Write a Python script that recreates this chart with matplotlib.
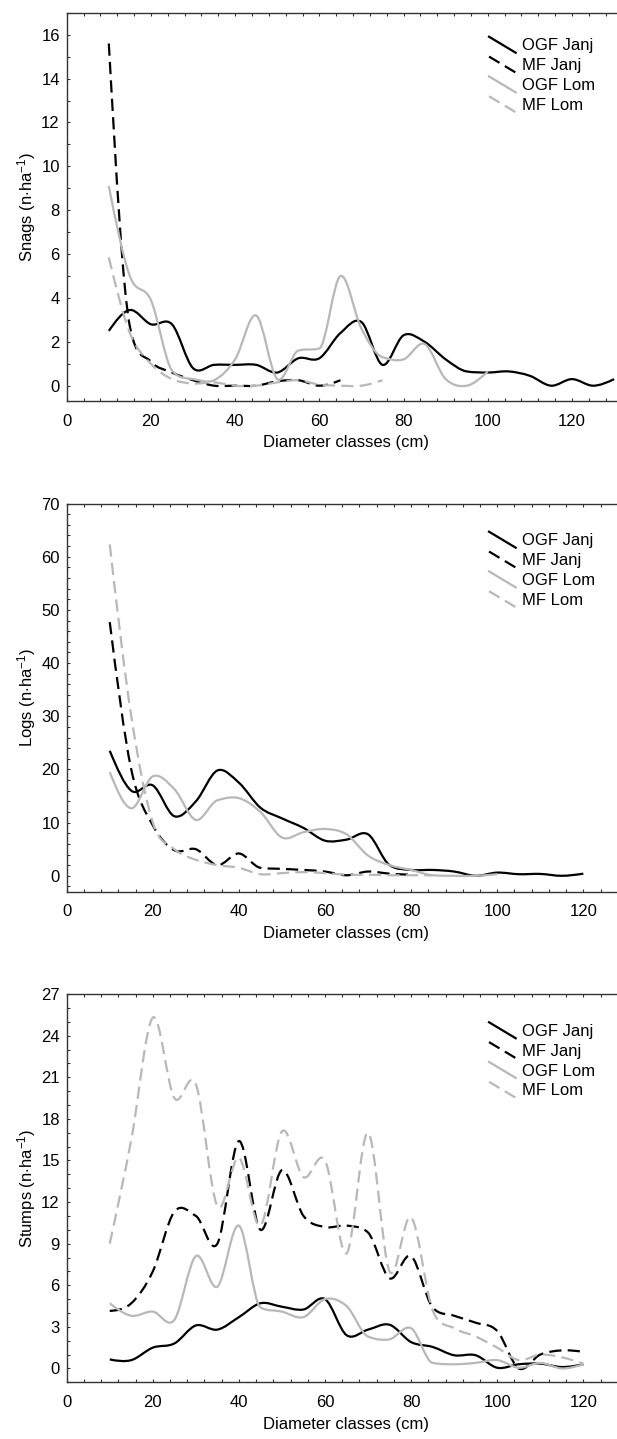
import numpy as np
import matplotlib
matplotlib.use("Agg")
import matplotlib.pyplot as plt
from matplotlib.path import Path
from matplotlib.patches import PathPatch
from matplotlib.lines import Line2D
from matplotlib.legend_handler import HandlerBase
from matplotlib.ticker import MultipleLocator, AutoMinorLocator

plt.rcParams["font.family"] = ["Liberation Sans", "DejaVu Sans"]
plt.rcParams["mathtext.fontset"] = "custom"
plt.rcParams["mathtext.rm"] = "Liberation Sans"
plt.rcParams["mathtext.it"] = "Liberation Sans:italic"

SERIES = ["OGF Janj", "MF Janj", "OGF Lom", "MF Lom"]

# diameter classes (cm)
d10_130 = [10, 15, 20, 25, 30, 35, 40, 45, 50, 55, 60, 65, 70, 75, 80, 85, 90,
           95, 100, 105, 110, 115, 120, 125, 130]
d10_120 = d10_130[:-2]

# snags (n/ha)
snags_ogf_janj = [2.5, 3.45, 2.8, 2.8, 0.8, 0.95, 0.95, 0.95, 0.6, 1.25, 1.25, 2.4,
                  2.9, 0.95, 2.3, 2.0, 1.2, 0.65, 0.6, 0.65, 0.45, 0.0, 0.3, 0.0, 0.3]
snags_mf_janj = [15.6, 2.7, 1.1, 0.6, 0.25, 0.0, 0.0, 0.0, 0.2, 0.25, 0.0, 0.25]
snags_ogf_lom = [9.1, 5.0, 3.9, 0.7, 0.3, 0.25, 1.2, 3.2, 0.3, 1.6, 1.7, 5.0, 2.6,
                 1.3, 1.2, 1.9, 0.3, 0.0, 0.65]
snags_mf_lom = [5.85, 2.4, 1.0, 0.3, 0.1, 0.15, 0.0, 0.0, 0.15, 0.25, 0.05, 0.0,
                0.0, 0.25]

# logs (n/ha)
logs_ogf_janj = [23.5, 16.0, 17.0, 11.2, 14.0, 19.8, 17.5, 12.8, 10.8, 9.0, 6.6,
                 6.8, 7.8, 2.0, 1.1, 1.1, 0.8, 0.0, 0.6, 0.3, 0.35, 0.0, 0.4]
logs_mf_janj = [47.7, 20.0, 9.5, 4.8, 5.0, 2.0, 4.2, 1.5, 1.3, 1.1, 0.8, 0.1,
                0.8, 0.4, 0.2]
logs_ogf_lom = [19.5, 12.7, 18.7, 16.3, 10.5, 14.2, 14.6, 12.0, 7.2, 8.2, 8.8,
                7.8, 3.8, 2.0, 1.1, 0.1, 0.0, 0.0, 0.3]
logs_mf_lom = [62.3, 30.0, 10.0, 5.0, 3.0, 2.0, 1.5, 0.3, 0.5, 0.7, 0.5, 0.2,
               0.2, 0.1, 0.1, 0.1]

# stumps (n/ha)
stumps_ogf_janj = [0.65, 0.6, 1.5, 1.8, 3.1, 2.8, 3.7, 4.7, 4.45, 4.25, 5.0, 2.4,
                   2.8, 3.15, 1.9, 1.55, 0.95, 0.95, 0.05, 0.3, 0.35, 0.1, 0.3]
stumps_mf_janj = [4.15, 4.7, 7.0, 11.3, 11.0, 9.0, 16.4, 10.0, 14.3, 11.0, 10.2,
                  10.3, 9.8, 6.5, 8.1, 4.4, 3.8, 3.3, 2.7, 0.0, 1.0, 1.3, 1.2]
stumps_ogf_lom = [4.7, 3.8, 4.1, 3.5, 8.1, 5.9, 10.3, 4.4, 4.1, 3.7, 5.0, 4.5,
                  2.3, 2.1, 2.9, 0.4, 0.3, 0.4, 0.6, 0.05, 0.4, 0.0, 0.3]
stumps_mf_lom = [9.0, 16.5, 25.3, 19.5, 20.5, 11.7, 15.2, 10.3, 17.1, 13.8, 15.0,
                 8.3, 17.0, 7.0, 10.9, 4.2, 2.9, 2.3, 1.5, 0.6, 1.0, 0.8, 0.35]

STYLE = {
    "OGF Janj": ("black", "-"),
    "MF Janj": ("black", (0, (5.5, 2.8))),
    "OGF Lom": ("#b8b8b8", "-"),
    "MF Lom": ("#b8b8b8", (0, (5.5, 2.8))),
}
LW = 1.6
FS = 12


def smooth_path(x, y):
    # cubic Hermite curve through the class values, drawn as bezier segments
    x = np.asarray(x, float)
    y = np.asarray(y, float)
    d = np.diff(y) / np.diff(x)
    m = np.empty(len(x))
    m[1:-1] = (y[2:] - y[:-2]) / (x[2:] - x[:-2])
    # keep steep drops from ringing (same-sign neighbours only)
    for i in range(1, len(x) - 1):
        if d[i - 1] * d[i] > 0:
            lim = 3 * min(abs(d[i - 1]), abs(d[i]))
            m[i] = np.sign(m[i]) * min(abs(m[i]), lim)
    m[0] = 1.5 * d[0] - 0.5 * m[1]
    m[-1] = 1.5 * d[-1] - 0.5 * m[-2]
    verts = [(x[0], y[0])]
    codes = [Path.MOVETO]
    for i in range(len(x) - 1):
        h = x[i + 1] - x[i]
        verts += [(x[i] + h / 3, y[i] + m[i] * h / 3),
                  (x[i + 1] - h / 3, y[i + 1] - m[i + 1] * h / 3),
                  (x[i + 1], y[i + 1])]
        codes += [Path.CURVE4] * 3
    return Path(verts, codes)


class DiagonalHandler(HandlerBase):
    def create_artists(self, legend, orig_handle, xdescent, ydescent,
                       width, height, fontsize, trans):
        yc = height / 2 - ydescent
        half = 0.48 * fontsize
        line = Line2D([-xdescent, width - xdescent], [yc + half, yc - half])
        self.update_prop(line, orig_handle, legend)
        line.set_transform(trans)
        return [line]


def draw_panel(ax, series, ylabel, ylim, ystep, yminor, xmax, legend_top):
    for name, (x, y) in zip(SERIES, series):
        color, ls = STYLE[name]
        ax.add_patch(PathPatch(smooth_path(x, y), fill=False, edgecolor=color,
                               linestyle=ls, linewidth=LW, capstyle="butt"))
    ax.set_xlim(0, xmax)
    ax.set_ylim(*ylim)
    ax.xaxis.set_major_locator(MultipleLocator(20))
    ax.xaxis.set_minor_locator(AutoMinorLocator(5))
    ax.yaxis.set_major_locator(MultipleLocator(ystep))
    ax.yaxis.set_minor_locator(AutoMinorLocator(yminor))
    ax.tick_params(which="both", direction="in", top=True, right=True,
                   length=2.2, width=0.8, color="#333333", labelsize=FS)
    ax.tick_params(axis="x", pad=9)
    ax.tick_params(axis="y", pad=5)
    for sp in ax.spines.values():
        sp.set_color("#333333")
        sp.set_linewidth(1.0)
    ax.set_xlabel("Diameter classes (cm)", fontsize=FS, labelpad=5, x=0.492)
    ax.set_ylabel(ylabel, fontsize=FS)
    ax.yaxis.set_label_coords(-0.051, 0.5)

    handles = [Line2D([], [], color=STYLE[n][0], linestyle=STYLE[n][1], linewidth=LW)
               for n in SERIES]
    ax.legend(handles, SERIES, handler_map={Line2D: DiagonalHandler()},
              loc="upper left", bbox_to_anchor=(0.744, legend_top),
              frameon=False, borderpad=0, borderaxespad=0, fontsize=FS,
              handlelength=1.6, handleheight=1.0, handletextpad=0.4,
              labelspacing=0.22)


# axes run past the right edge of the figure, as in the original cut-off plot
fig = plt.figure(figsize=(6.17, 14.39), dpi=100)
left, width, height = 0.1081, 0.920, 0.2698
ax1 = fig.add_axes([left, 0.7213, width, height])
ax2 = fig.add_axes([left, 0.3803, width, height])
ax3 = fig.add_axes([left, 0.0394, width, height])

draw_panel(ax1,
           [(d10_130, snags_ogf_janj),
            (d10_130[:len(snags_mf_janj)], snags_mf_janj),
            (d10_130[:len(snags_ogf_lom)], snags_ogf_lom),
            (d10_130[:len(snags_mf_lom)], snags_mf_lom)],
           "Snags (n$\\cdot$ha$^{-1}$)", (-0.7, 17), 2, 2, 134.8, 0.937)
draw_panel(ax2,
           [(d10_120, logs_ogf_janj),
            (d10_130[:len(logs_mf_janj)], logs_mf_janj),
            (d10_130[:len(logs_ogf_lom)], logs_ogf_lom),
            (d10_130[:len(logs_mf_lom)], logs_mf_lom)],
           "Logs (n$\\cdot$ha$^{-1}$)", (-3, 70), 10, 5, 131.85, 0.926)
draw_panel(ax3,
           [(d10_120, stumps_ogf_janj),
            (d10_120, stumps_mf_janj),
            (d10_120, stumps_ogf_lom),
            (d10_120, stumps_mf_lom)],
           "Stumps (n$\\cdot$ha$^{-1}$)", (-1, 27), 3, 3, 131.85, 0.926)

fig.savefig("out.png", dpi=100)
